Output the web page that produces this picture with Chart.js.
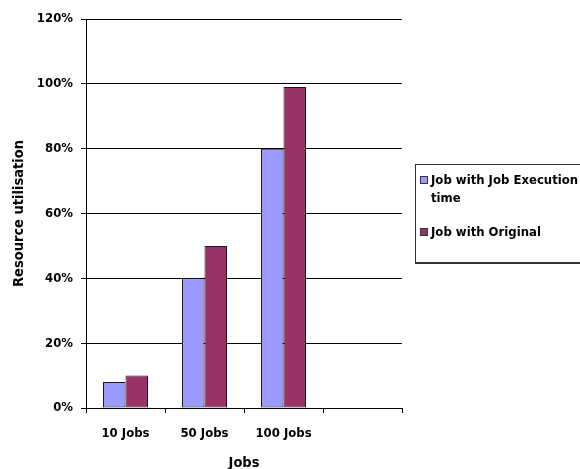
<!DOCTYPE html>
<html>
<head>
<meta charset="utf-8">
<script src="https://cdn.jsdelivr.net/npm/chart.js@4"></script>
<style>
  html, body { margin: 0; padding: 0; background: #fff; }
  #wrap { position: relative; width: 580px; height: 469px; overflow: hidden; }
  #legend {
    position: absolute; left: 415px; top: 164px; width: 175px; height: 100px;
    border: 1px solid #333; border-bottom-width: 2px; box-sizing: border-box;
    font: bold 13px "DejaVu Sans Condensed", "DejaVu Sans", sans-serif;
    font-stretch: condensed;
    color: #000; padding: 6px 0 0 4px;
  }
  .item { display: flex; align-items: flex-start; margin-bottom: 16px; line-height: 18px; }
  .sw { width: 6px; height: 6px; border: 1px solid #333; margin: 5px 3px 0 0; flex: none; }
</style>
</head>
<body>
<div id="wrap">
  <canvas id="chart" width="580" height="469"></canvas>
  <div id="legend"></div>
</div>
<script>
const categories = ['10 Jobs', '50 Jobs', '100 Jobs', ''];
const seriesNames = ['Job with Job Execution time', 'Job with Original'];
const execTime = [8, 40, 80, null];
const original = [10, 50, 99, null];
const yTicks = [0, 20, 40, 60, 80, 100, 120];
const colors = ['#9999FF', '#993366'];

const fam = '"DejaVu Sans Condensed", "DejaVu Sans", sans-serif';
const tickFont = { family: fam, weight: 'bold', size: 13 };
const titleFont = { family: fam, weight: 'bold', size: 14.5, lineHeight: 1 };

new Chart(document.getElementById('chart'), {
  type: 'bar',
  data: {
    labels: categories,
    datasets: [
      { label: seriesNames[0], data: execTime, backgroundColor: colors[0], borderColor: '#1a1a1a', borderWidth: 1, borderSkipped: false },
      { label: seriesNames[1], data: original, backgroundColor: colors[1], borderColor: '#1a1a1a', borderWidth: 1, borderSkipped: false }
    ]
  },
  options: {
    responsive: false,
    animation: false,
    layout: { padding: { top: 19, right: 178, bottom: 0, left: 12 } },
    datasets: { bar: { categoryPercentage: 0.57, barPercentage: 1 } },
    plugins: { legend: { display: false }, tooltip: { enabled: false } },
    scales: {
      x: {
        afterFit: axis => { axis.height = 61; },
        grid: { offset: true, drawOnChartArea: false, drawTicks: true, tickLength: 5, color: '#000' },
        border: { color: '#000', width: 1 },
        ticks: { color: '#000', font: tickFont, padding: 13 },
        title: { display: true, text: 'Jobs', color: '#000', font: titleFont, padding: { top: 0, bottom: -1 } }
      },
      y: {
        min: 0, max: 120,
        afterBuildTicks: axis => { axis.ticks = yTicks.map(v => ({ value: v })); },
        afterFit: axis => { axis.width = 74; },
        grid: { color: '#000', tickLength: 5 },
        border: { color: '#000', width: 1 },
        ticks: { color: '#000', font: tickFont, padding: 8, callback: v => v + '%' },
        title: { display: true, text: 'Resource utilisation', color: '#000', font: titleFont, padding: 0 }
      }
    }
  }
});

// legend drawn as html so the long label can wrap
const legendEl = document.getElementById('legend');
seriesNames.forEach((name, i) => {
  const item = document.createElement('div');
  item.className = 'item';
  item.innerHTML = '<span class="sw" style="background:' + colors[i] + '"></span><span>' + name + '</span>';
  legendEl.appendChild(item);
});
</script>
</body>
</html>
